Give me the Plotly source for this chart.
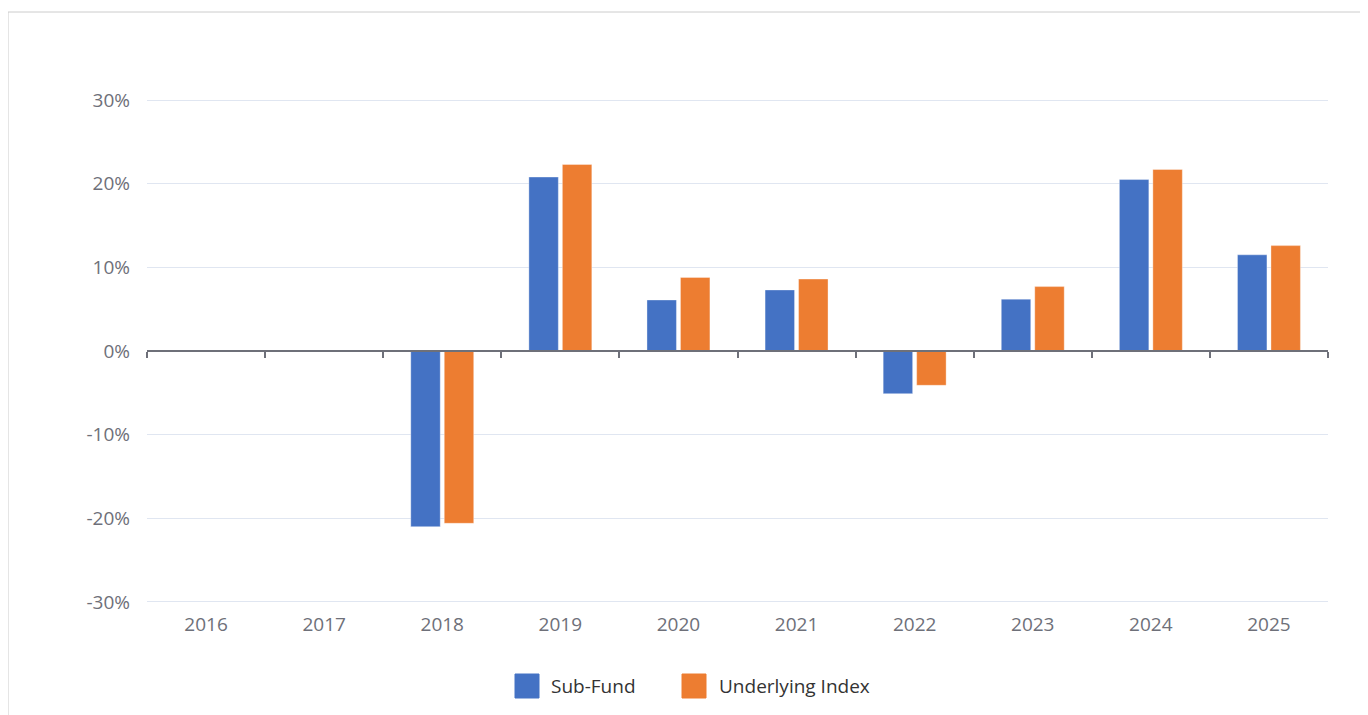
import plotly.graph_objects as go

years = ["2016", "2017", "2018", "2019", "2020", "2021", "2022", "2023", "2024", "2025"]
sub_fund = [None, None, -21.0, 20.8, 6.1, 7.3, -5.1, 6.2, 20.5, 11.5]
underlying_index = [None, None, -20.6, 22.3, 8.8, 8.6, -4.1, 7.7, 21.7, 12.6]
y_ticks = [-30, -20, -10, 0, 10, 20, 30]
y_tick_text = [f"{v}%" for v in y_ticks]

BLUE = "#4472C4"
ORANGE = "#ED7D31"
GRAY = "#6E7079"
FONT = "Open Sans, Noto Sans, sans-serif"

fig = go.Figure()
fig.add_trace(go.Bar(x=years, y=sub_fund, name="Sub-Fund",
                     marker=dict(color=BLUE, line=dict(color="rgba(255,255,255,0.35)", width=1))))
fig.add_trace(go.Bar(x=years, y=underlying_index, name="Underlying Index",
                     marker=dict(color=ORANGE, line=dict(color="rgba(255,255,255,0.35)", width=1))))
# invisible trace so the bottom label axis renders
fig.add_trace(go.Bar(x=years, y=[None] * len(years), xaxis="x2", showlegend=False, hoverinfo="skip"))

# plot area in page pixels: x 147..1328, y 98..604 (page has 8px body margin)
def px_x(p):
    return (p - 147) / 1181.0

def px_y(p):
    return (604 - p) / 506.0

legend_items = [("Sub-Fund", BLUE, 515, 549), ("Underlying Index", ORANGE, 682, 717)]
shapes = [dict(type="rect", xref="paper", yref="paper",
               x0=px_x(8), x1=1.2, y0=-0.4, y1=px_y(12),
               line=dict(color="#CCCCCC", width=1), fillcolor="rgba(0,0,0,0)", layer="below")]
annotations = []
for name, color, sq_x, tx in legend_items:
    shapes.append(dict(type="rect", xref="paper", yref="paper",
                       x0=px_x(sq_x), x1=px_x(sq_x + 24), y0=px_y(698), y1=px_y(674),
                       line=dict(color=color, width=1), fillcolor=color))
    annotations.append(dict(text=name, xref="paper", yref="paper", x=px_x(tx), y=px_y(686),
                            xanchor="left", yanchor="middle", showarrow=False,
                            font=dict(family=FONT, size=19, color="#333333")))

fig.update_layout(
    width=1360, height=707,
    margin=dict(l=139, r=40, t=90, b=111),
    paper_bgcolor="white", plot_bgcolor="white",
    font=dict(family=FONT, size=19, color=GRAY),
    barmode="group", bargap=0.433, bargroupgap=0.12,
    showlegend=False,
    xaxis=dict(type="category", categoryorder="array", categoryarray=years,
               anchor="free", position=0.5, showline=True, linecolor=GRAY, linewidth=1.5,
               ticks="outside", tickson="boundaries", ticklen=6, tickcolor=GRAY, tickwidth=1.5,
               showticklabels=False, showgrid=False, zeroline=False),
    xaxis2=dict(type="category", overlaying="x", matches="x", anchor="y", side="bottom",
                categoryorder="array", categoryarray=years,
                showline=False, ticks="", showgrid=False, showticklabels=True,
                tickfont=dict(size=19, color=GRAY), ticklabelstandoff=7),
    yaxis=dict(range=[-30.25, 30.25], tickvals=y_ticks, ticktext=y_tick_text, showgrid=True,
               gridcolor="#E0E6F1", gridwidth=1.2, zeroline=False, showline=False,
               ticks="", tickfont=dict(size=19, color=GRAY), ticklabelstandoff=16),
    shapes=shapes,
    annotations=annotations,
)

fig.write_html("out.html")
